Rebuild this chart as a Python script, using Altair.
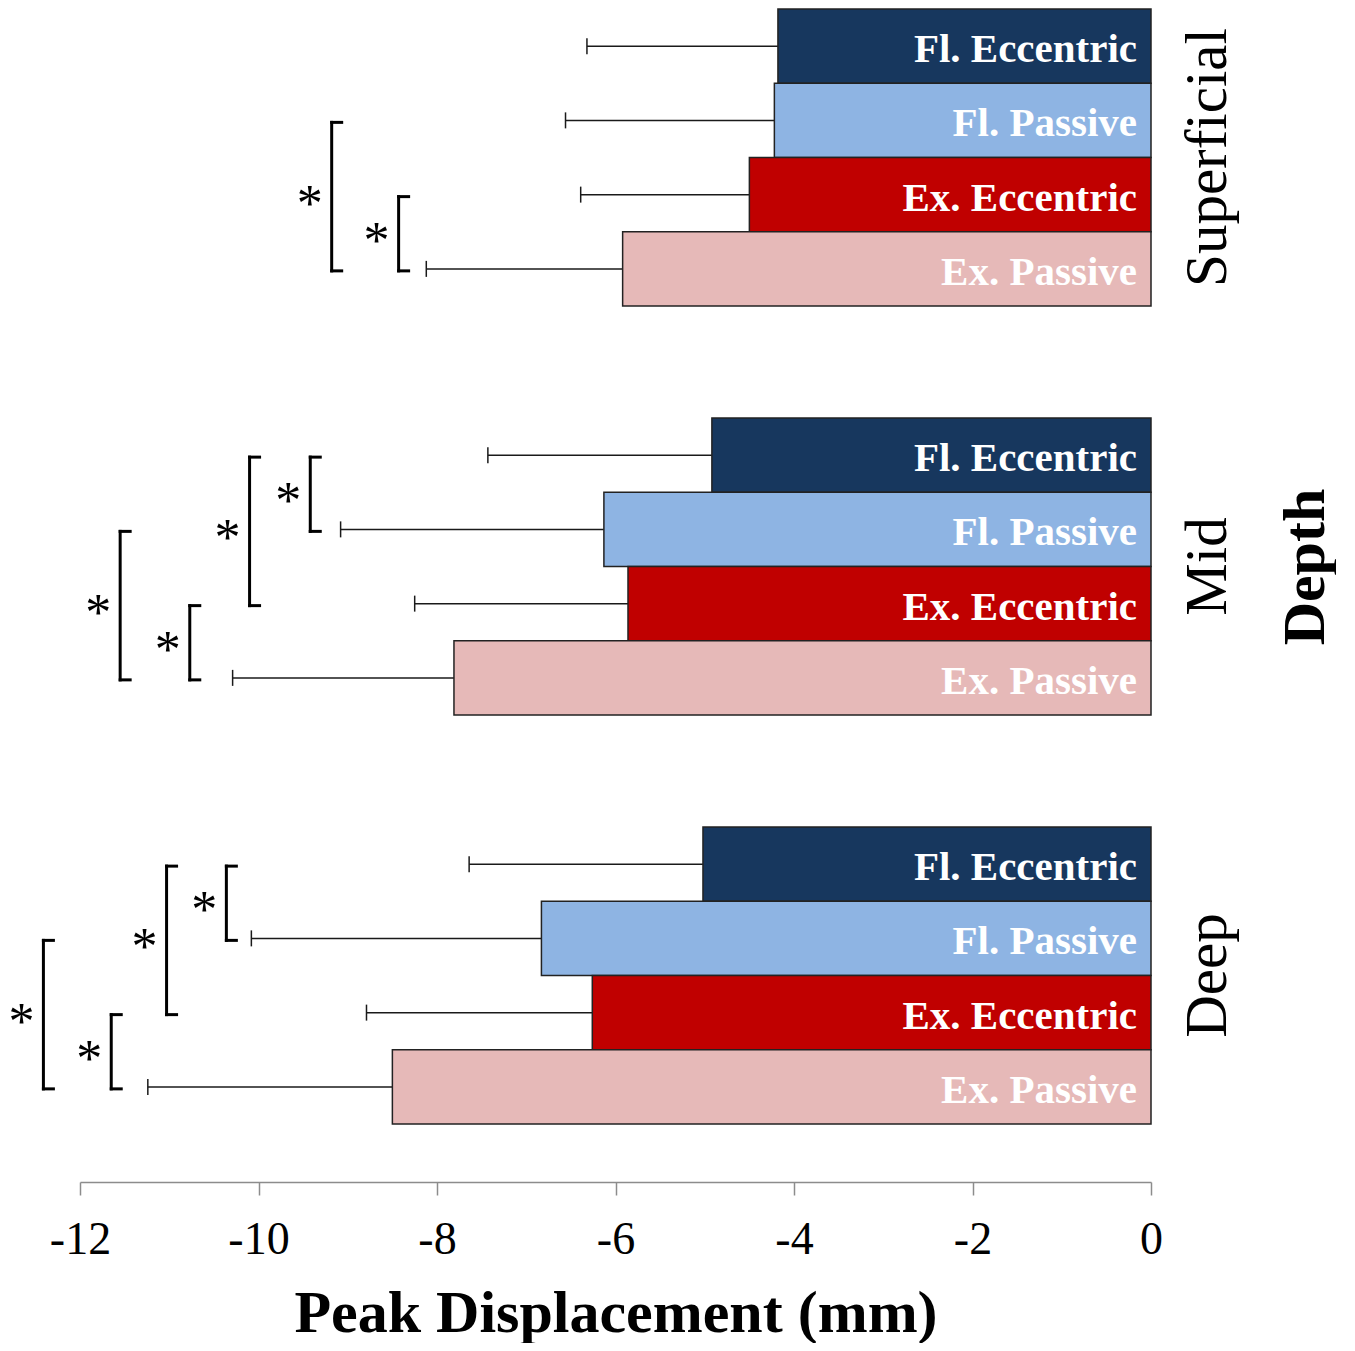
import altair as alt
import pandas as pd

depths = ["Superficial", "Mid", "Deep"]
conditions = ["Fl. Eccentric", "Fl. Passive", "Ex. Eccentric", "Ex. Passive"]
colors = ["#17375E", "#8EB4E3", "#C00000", "#E6B9B8"]

# peak displacement means and SD (mm), one list per depth, in the order of `conditions`
mean_superficial = [-4.18, -4.22, -4.50, -5.92]
sd_superficial = [2.14, 2.34, 1.89, 2.20]
mean_mid = [-4.92, -6.13, -5.86, -7.81]
sd_mid = [2.51, 2.95, 2.39, 2.48]
mean_deep = [-5.02, -6.83, -6.26, -8.50]
sd_deep = [2.62, 3.25, 2.53, 2.74]

# significance brackets: depth, upper condition, lower condition, bracket position (mm)
sig_depth = ["Superficial", "Superficial", "Mid", "Mid", "Mid", "Mid",
             "Deep", "Deep", "Deep", "Deep"]
sig_from = ["Fl. Passive", "Ex. Eccentric", "Fl. Eccentric", "Fl. Eccentric",
            "Fl. Passive", "Ex. Eccentric", "Fl. Eccentric", "Fl. Eccentric",
            "Fl. Passive", "Ex. Eccentric"]
sig_to = ["Ex. Passive", "Ex. Passive", "Fl. Passive", "Ex. Eccentric",
          "Ex. Passive", "Ex. Passive", "Fl. Passive", "Ex. Eccentric",
          "Ex. Passive", "Ex. Passive"]
sig_x = [-9.18, -8.43, -9.42, -10.10, -11.55, -10.77, -10.36, -11.03, -12.41, -11.65]
tick_values = [-12, -10, -8, -6, -4, -2, 0]

rows = []
for d, means, sds in zip(depths, [mean_superficial, mean_mid, mean_deep],
                         [sd_superficial, sd_mid, sd_deep]):
    for i, (c, m, s) in enumerate(zip(conditions, means, sds)):
        rows.append({"kind": "bar", "depth": d, "cond": c, "pos": i, "mean": m, "sd": s})
for d, a, b, x in zip(sig_depth, sig_from, sig_to, sig_x):
    rows.append({"kind": "sig", "depth": d, "p1": conditions.index(a) + 0.5,
                 "p2": conditions.index(b) + 0.5, "bx": x})
df = pd.DataFrame(rows)

FONT = "Liberation Serif"
xscale = alt.Scale(domain=[-12, 0], nice=False, zero=False)
yscale = alt.Scale(domain=[0, 4], reverse=True, nice=False, zero=False)
xaxis = alt.Axis(values=tick_values, labelExpr="toString(datum.value)", labelFlush=False,
                 labelFont=FONT, labelFontSize=46, labelColor="black", labelPadding=22,
                 domainColor="#8c8c8c", tickColor="#8c8c8c", domainWidth=1.5, tickWidth=1.5,
                 tickSize=13, grid=False, offset=57,
                 title="Peak Displacement (mm)", titleFont=FONT, titleFontSize=60,
                 titleFontWeight="bold", titleColor="black", titlePadding=22)

def X(f):
    return alt.X(f, scale=xscale, axis=xaxis)

def Y(f):
    return alt.Y(f, scale=yscale, axis=None)

base = alt.Chart()
bars_base = base.transform_filter("datum.kind == 'bar'").transform_calculate(
    y0="datum.pos", y1="datum.pos + 1", yc="datum.pos + 0.5", lo="datum.mean - datum.sd")

err = bars_base.mark_rule(color="#1a1a1a", strokeWidth=1.5).encode(
    x=X("lo:Q"), x2="mean:Q", y=Y("yc:Q"))
caps = bars_base.mark_rule(color="#1a1a1a", strokeWidth=1.5, yOffset=-8, y2Offset=8).encode(
    x=X("lo:Q"), y=Y("yc:Q"), y2="yc:Q")
bars = bars_base.mark_rect(stroke="#222222", strokeWidth=1.5).encode(
    x=X("mean:Q"), x2=alt.datum(0), y=Y("y0:Q"), y2="y1:Q",
    color=alt.Color("cond:N", scale=alt.Scale(domain=conditions, range=colors), legend=None))
labels = bars_base.mark_text(align="right", baseline="middle", dx=-14, dy=4, font=FONT,
                             fontSize=41, fontWeight="bold", color="white").encode(
    x=alt.X(datum=0, scale=xscale, axis=xaxis), y=Y("yc:Q"), text="cond:N")

sig_base = base.transform_filter("datum.kind == 'sig'").transform_calculate(
    ym="(datum.p1 + datum.p2) / 2")
brk = sig_base.mark_rule(color="black", strokeWidth=3, strokeCap="square",
                         yOffset=2, y2Offset=2).encode(
    x=X("bx:Q"), y=Y("p1:Q"), y2="p2:Q")
serif = sig_base.transform_fold(["p1", "p2"], as_=["end", "yend"]).mark_rule(
    color="black", strokeWidth=3, strokeCap="square", x2Offset=10, yOffset=2).encode(
    x=X("bx:Q"), x2="bx:Q", y=Y("yend:Q"))
stars = sig_base.mark_text(text="*", font=FONT, fontSize=52, dx=-22, dy=10,
                           baseline="middle", color="black").encode(
    x=X("bx:Q"), y=Y("ym:Q"))

layered = alt.layer(err, caps, bars, labels, brk, serif, stars, data=df).properties(
    width=1071, height=297)

chart = layered.facet(
    row=alt.Row("depth:N", sort=depths, title="Depth",
                header=alt.Header(labelOrient="right", labelAngle=-90, labelFont=FONT,
                                  labelFontSize=59, labelColor="black", labelPadding=-3,
                                  titleOrient="right", titleAngle=-90, titleFont=FONT,
                                  titleFontSize=60, titleFontWeight="bold",
                                  titleColor="black", titlePadding=29)),
    spacing=110,
).properties(padding=0).configure_view(stroke=None)

chart.save("out.html", embed_options={"renderer": "svg", "actions": False})
